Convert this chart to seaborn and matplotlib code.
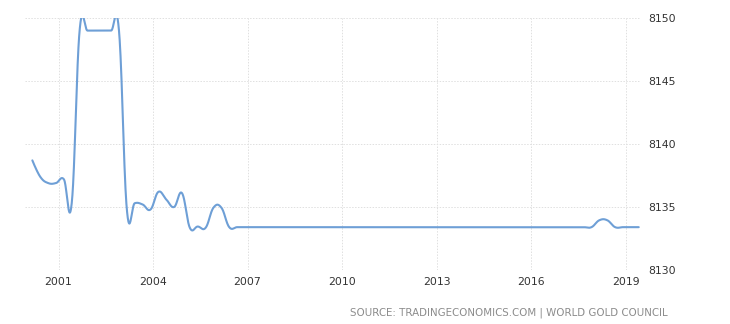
import numpy as np
import pandas as pd
import matplotlib
matplotlib.use("Agg")
import matplotlib.pyplot as plt
import seaborn as sns

# ---- data (US gold reserves, tonnes, quarterly) ----
first_period = "2000Q1"
values = [
    8138.7, 8137.4, 8136.9, 8136.9, 8137.2, 8135.3,
    8149.0, 8149.0, 8149.0, 8149.0, 8149.0, 8149.0,
    8134.8, 8135.3, 8135.2, 8134.8, 8136.2, 8135.6, 8135.0, 8136.1,
    8133.35, 8133.45, 8133.35, 8134.95, 8134.95, 8133.4,
] + [8133.4] * 46 + [8133.95, 8133.95] + [8133.4] * 4
x_tick_years = [2001, 2004, 2007, 2010, 2013, 2016, 2019]
y_ticks = [8130, 8135, 8140, 8145, 8150]
source_text = "SOURCE: TRADINGECONOMICS.COM | WORLD GOLD COUNCIL"

periods = pd.period_range(first_period, periods=len(values), freq="Q")
xs = np.array([p.year + (p.quarter - 1) / 4 + 0.17 for p in periods])
ys = np.array(values, dtype=float)


def spline_path(x, y, smoothing=1.5, steps=40):
    """Highcharts-like spline rendering through the data points."""
    n = len(x)
    lcx, lcy = x.copy(), y.copy()
    rcx, rcy = x.copy(), y.copy()
    d = smoothing + 1
    for i in range(1, n - 1):
        lx = (smoothing * x[i] + x[i - 1]) / d
        ly = (smoothing * y[i] + y[i - 1]) / d
        rx = (smoothing * x[i] + x[i + 1]) / d
        ry = (smoothing * y[i] + y[i + 1]) / d
        corr = (ry - ly) * (rx - x[i]) / (rx - lx) + y[i] - ry
        lcx[i], lcy[i], rcx[i], rcy[i] = lx, ly + corr, rx, ry + corr
    t = np.linspace(0, 1, steps)[:, None]
    px, py = [], []
    for i in range(1, n):
        P = np.array([[x[i - 1], y[i - 1]], [rcx[i - 1], rcy[i - 1]],
                      [lcx[i], lcy[i]], [x[i], y[i]]])
        B = ((1 - t) ** 3) * P[0] + 3 * ((1 - t) ** 2) * t * P[1] \
            + 3 * (1 - t) * t ** 2 * P[2] + t ** 3 * P[3]
        if i > 1:
            B = B[1:]
        px.append(B[:, 0]); py.append(B[:, 1])
    return np.concatenate(px), np.concatenate(py)


cx, cy = spline_path(xs, ys)
curve = pd.DataFrame({"x": cx, "y": cy})

sns.set_style("white")
plt.rcParams["font.family"] = ["DejaVu Sans"]

W, H = 730, 324
fig = plt.figure(figsize=(W / 100, H / 100), dpi=100)
L, R, T, B = 25, 640, 18, 270
ax = fig.add_axes([L / W, 1 - B / H, (R - L) / W, (B - T) / H])

sns.lineplot(data=curve, x="x", y="y", ax=ax, color="#6e9fd6",
             linewidth=1.5, estimator=None, sort=False)

x0 = 2001 + (L - 58.5) / 31.5
x1 = 2001 + (R - 58.5) / 31.5
ax.set_xlim(x0, x1)
ax.set_ylim(8130, 8150)
ax.set_xticks(x_tick_years)
ax.set_xticklabels([str(v) for v in x_tick_years])
ax.set_yticks(y_ticks)
ax.set_yticklabels([str(v) for v in y_ticks])
ax.yaxis.tick_right()
ax.tick_params(axis="both", length=0, labelsize=7.8, colors="#333333")
ax.tick_params(axis="y", pad=6)
ax.tick_params(axis="x", pad=5)
ax.set_xlabel("")
ax.set_ylabel("")
ax.grid(True, color="#e0e0e0", linestyle=(0, (1.5, 1.5)), linewidth=0.7)
for s in ax.spines.values():
    s.set_visible(False)

fig.text(668 / W, 1 - 313 / H, source_text, ha="right", va="center",
         fontsize=7.4, color="#8c8c8c")

fig.savefig("out.png", dpi=100)
